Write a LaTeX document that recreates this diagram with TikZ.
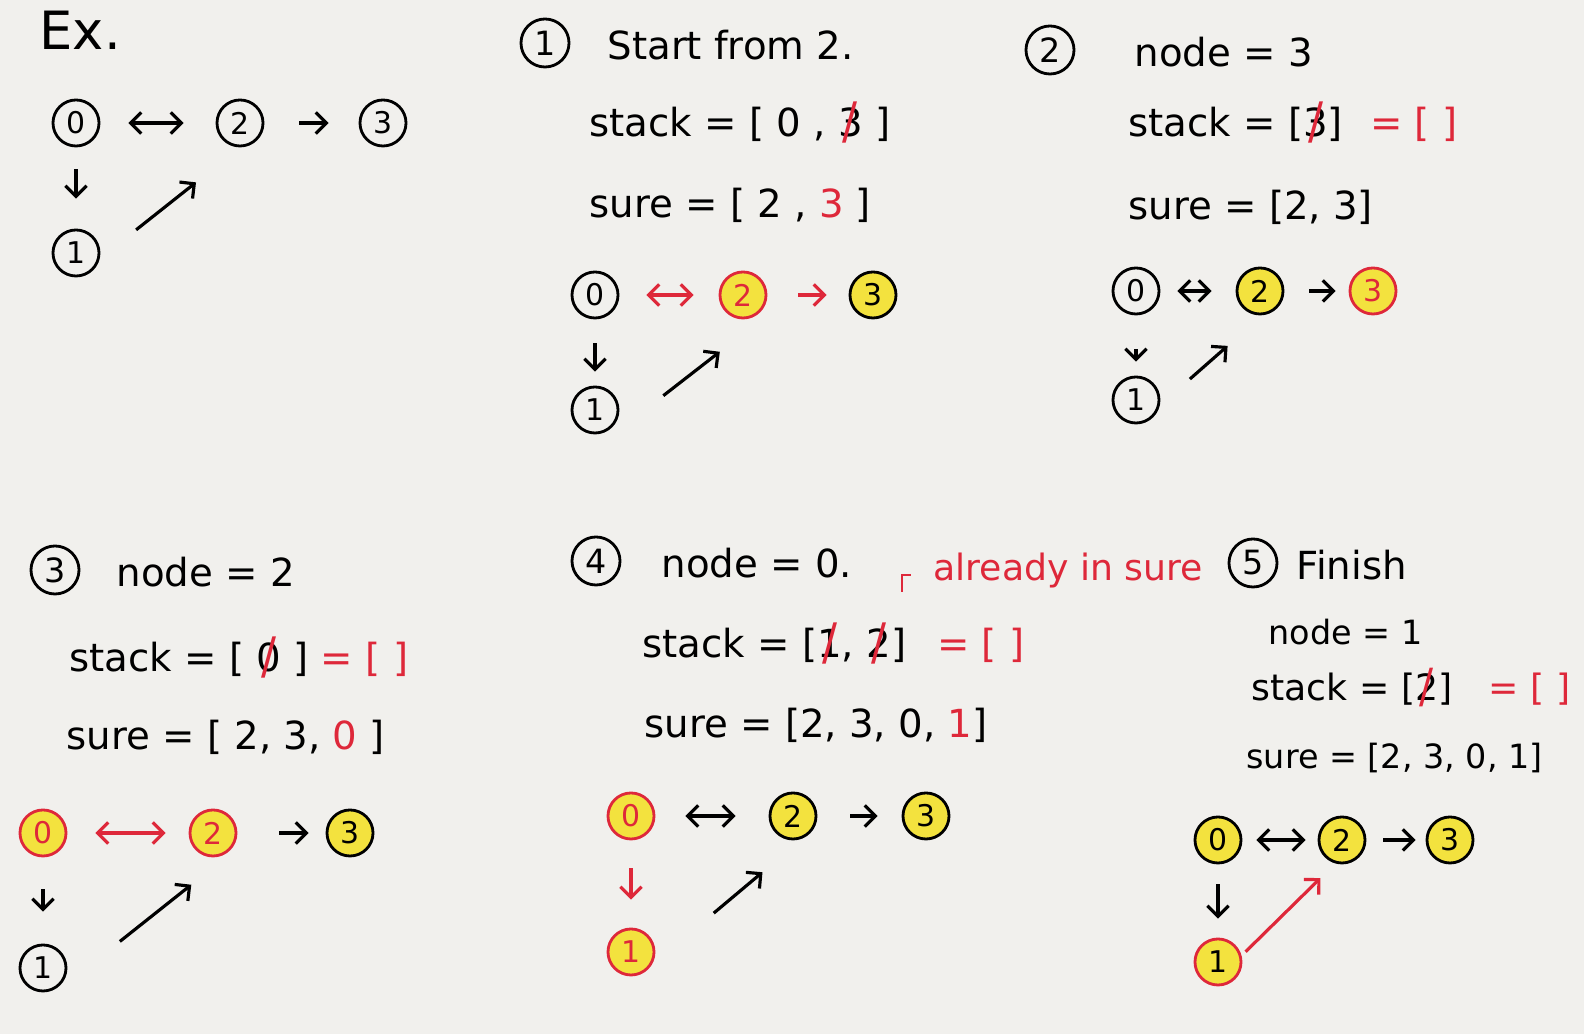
\documentclass[tikz,border=0pt]{standalone}
\usepackage{fontspec}
\setmainfont{DejaVu Sans}
\usepackage{tikz}
\usetikzlibrary{arrows.meta}
\definecolor{penRed}{RGB}{222,40,58}
\definecolor{hiYellow}{RGB}{243,226,62}
\definecolor{paper}{RGB}{241,240,237}
\newcommand{\struck}[1]{\ooalign{#1\cr\hidewidth\raisebox{-0.05em}{\textcolor{penRed}{\scalebox{1.15}[1.3]{/}}}\hidewidth\cr}}
\newcommand{\rd}[1]{\textcolor{penRed}{#1}}

\begin{document}
\begin{tikzpicture}[x=0.01cm, y=-0.01cm, line width=0.9pt,
        >={Straight Barb[length=3pt, width=6pt]}]
        \tikzstyle{nodeStyle} = [circle, draw=black, line width=0.8pt, minimum size=4.6mm, inner sep=0pt, font=\fontsize{8.5}{9}\selectfont]
        \tikzstyle{seenNode} = [nodeStyle, fill=hiYellow]
        \tikzstyle{curNode} = [seenNode, draw=penRed, text=penRed]
        \tikzstyle{stepStyle} = [circle, draw=black, line width=0.8pt, minimum size=4.8mm, inner sep=0pt, font=\fontsize{9.5}{10}\selectfont]
        \tikzstyle{lineText} = [anchor=west, inner sep=0pt, font=\fontsize{11}{13}\selectfont]
        \tikzstyle{smallText} = [anchor=west, inner sep=0pt, font=\fontsize{9.5}{11}\selectfont]
        \fill[paper] (0,0) rectangle (1584,1034);
        \useasboundingbox (0,0) rectangle (1584,1034);
        % Ex.
        \node[anchor=west, inner sep=0pt, font=\fontsize{15}{17}\selectfont] (ex) at (38,30) {Ex.};
        \node[nodeStyle] (x0) at (76,123) {0};
        \node[nodeStyle] (x2) at (240,123) {2};
        \node[nodeStyle] (x3) at (383,123) {3};
        \node[nodeStyle] (x1) at (76,253) {1};
        % step 1
        \node[stepStyle] (s1) at (545,43) {1};
        \node[lineText] (t1) at (606,45) {Start from 2.};
        \node[lineText] (k1) at (588,125) {stack = [ 0 , \struck{3} ]};
        \node[lineText] (r1) at (588,205) {sure = [ 2 , \rd{3} ]};
        \node[nodeStyle] (a0) at (595,295) {0};
        \node[curNode] (a2) at (743,295) {2};
        \node[seenNode] (a3) at (873,295) {3};
        \node[nodeStyle] (a1) at (595,410) {1};
        % step 2
        \node[stepStyle] (s2) at (1050,50) {2};
        \node[lineText] (t2) at (1133,52) {node = 3};
        \node[lineText] (k2) at (1127,125) {stack = [\struck{3}]\hspace{0.7em}\rd{= [ ]}};
        \node[lineText] (r2) at (1127,207) {sure = [2, 3]};
        \node[nodeStyle] (b0) at (1136,291) {0};
        \node[seenNode] (b2) at (1260,291) {2};
        \node[curNode] (b3) at (1373,291) {3};
        \node[nodeStyle] (b1) at (1136,400) {1};
        % step 3
        \node[stepStyle] (s3) at (55,570) {3};
        \node[lineText] (t3) at (115,572) {node = 2};
        \node[lineText] (k3) at (68,660) {stack = [ \struck{0} ] \rd{= [ ]}};
        \node[lineText] (r3) at (65,737) {sure = [ 2, 3, \rd{0} ]};
        \node[curNode] (c0) at (43,833) {0};
        \node[curNode] (c2) at (213,833) {2};
        \node[seenNode] (c3) at (350,833) {3};
        \node[nodeStyle] (c1) at (43,968) {1};
        % step 4
        \node[stepStyle] (s4) at (596,561) {4};
        \node[lineText] (t4) at (660,563) {node = 0.};
        \node[anchor=west, inner sep=0pt, font=\fontsize{10.3}{12}\selectfont, text=penRed] (note) at (932,571) {already in sure};
        \draw[penRed, line width=0.8pt] (902,592) -- (902,575) -- (911,575);
        \node[lineText] (k4) at (641,646) {stack = [\struck{1}, \struck{2}]\hspace{0.8em}\rd{= [ ]}};
        \node[lineText] (r4) at (643,725) {sure = [2, 3, 0, \rd{1}]};
        \node[curNode] (d0) at (631,816) {0};
        \node[seenNode] (d2) at (793,816) {2};
        \node[seenNode] (d3) at (926,816) {3};
        \node[curNode] (d1) at (631,952) {1};
        % step 5
        \node[stepStyle] (s5) at (1253,563) {5};
        \node[lineText] (t5) at (1295,565) {Finish};
        \node[smallText] (n5) at (1267,632) {node = 1};
        \node[anchor=west, inner sep=0pt, font=\fontsize{10.3}{12}\selectfont] (k5) at (1250,690) {stack = [\struck{2}]\hspace{1em}\rd{= [ ]}};
        \node[smallText] (r5) at (1245,758) {sure = [2, 3, 0, 1]};
        \node[seenNode] (e0) at (1218,840) {0};
        \node[seenNode] (e2) at (1342,840) {2};
        \node[seenNode] (e3) at (1450,840) {3};
        \node[curNode, text=black] (e1) at (1218,962) {1};
        % edges
        \foreach \from/\to/\col/\s/\e in {x0/x2/black/2.8mm/3.2mm, a0/a2/penRed/2.7mm/2.5mm,
                b0/b2/black/1.7mm/2.4mm, c0/c2/penRed/2.8mm/2.3mm,
                d0/d2/black/3mm/3.3mm, e0/e2/black/1.4mm/1.2mm}
            \draw[<->, draw=\col, shorten <=\s, shorten >=\e] (\from) -- (\to);
        \foreach \from/\to/\col/\s/\e in {x2/x3/black/3.5mm/3mm, a2/a3/penRed/3.1mm/2.2mm,
                b2/b3/black/2.5mm/1.3mm, c2/c3/black/4.2mm/1.7mm,
                d2/d3/black/3.3mm/2.4mm, e2/e3/black/1.7mm/1mm,
                x0/x1/black/2.2mm/3mm, a0/a1/black/2.4mm/1.4mm,
                b0/b1/black/3.4mm/1.4mm, c0/c1/black/3.2mm/3.2mm,
                d0/d1/penRed/2.8mm/2.8mm, e0/e1/black/2mm/1.9mm}
            \draw[->, draw=\col, shorten <=\s, shorten >=\e] (\from) -- (\to);
        % 1 -> 2, drawn a little off the centre line
        \foreach \from/\to/\col/\s/\e/\dx/\dy in {x1/x2/black/3.7mm/4.7mm/12/15,
                a1/a2/black/3.8mm/2.9mm/19/24, b1/b2/black/3mm/3.6mm/13/15,
                c1/c2/black/5.2mm/2.5mm/17/21, d1/d2/black/6.4mm/3.5mm/15/18,
                e1/e2/penRed/0.3mm/1.7mm/8/9}
            \draw[->, draw=\col, shorten <=\s, shorten >=\e,
                transform canvas={shift={(\dx,\dy)}}] (\from) -- (\to);
\end{tikzpicture}
\end{document}
